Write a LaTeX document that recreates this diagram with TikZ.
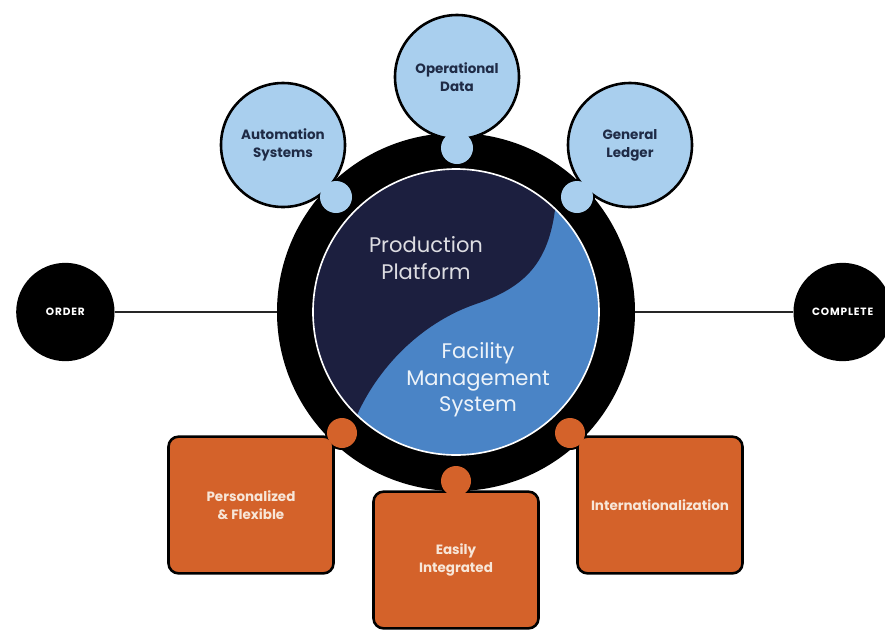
\documentclass[tikz,border=0pt]{standalone}
\usepackage{fontspec}
\setmainfont{Poppins}
\usepackage{tikz}
\usetikzlibrary{positioning, backgrounds}
\definecolor{navy}{HTML}{1C1F3F}
\definecolor{fmsblue}{HTML}{4A84C6}
\definecolor{skyblue}{HTML}{A9CFEE}
\definecolor{rust}{HTML}{D4622A}
\definecolor{inkblue}{HTML}{1F2B46}
\definecolor{cream}{HTML}{F7E6D8}

\begin{document}
\begin{tikzpicture}[
  x=0.03cm, y=-0.03cm,
  ring/.style={circle, fill=black, minimum size=10.74cm, inner sep=0pt},
  core/.style={circle, fill=fmsblue, minimum size=8.58cm, inner sep=0pt},
  endpoint/.style={circle, fill=black, minimum size=2.95cm, inner sep=0pt,
                   text=white, font=\bfseries\fontsize{9}{11}\selectfont\addfontfeatures{LetterSpace=8}},
  bubble/.style={circle, fill=skyblue, draw=black, line width=2.2pt,
                 minimum size=3.72cm, inner sep=0pt, align=center, text=inkblue,
                 font=\bfseries\fontsize{11.5}{15.5}\selectfont},
  bknob/.style={circle, fill=skyblue, minimum size=0.96cm, inner sep=0pt},
  card/.style={rectangle, rounded corners=0.3cm, fill=rust, draw=black, line width=2.2pt,
               minimum width=4.95cm, minimum height=4.1cm, align=center, text=cream,
               font=\bfseries\fontsize{11.5}{15.5}\selectfont},
  cknob/.style={circle, fill=rust, minimum size=0.9cm, inner sep=0pt},
  centre/.style={align=center, font=\fontsize{18}{22.5}\selectfont},
  link/.style={draw=black!85, line width=1.5pt},
]
\useasboundingbox (0,0) rectangle (885,630);

% Hub: black ring with the two-tone core
\node[ring] (ring) at (456,312) {};
\node[core] (core) at (456,312) {};
\begin{scope}
  \clip (core.center) circle[radius=143];
  \fill[navy] (555,210) .. controls (548,262) and (526,287) .. (476,304)
              .. controls (426,321) and (381,362) .. (357,415)
              arc[start angle=134, end angle=314, radius=143] -- cycle;
\end{scope}
\draw[white, line width=1.4pt] (core.center) circle[radius=143];
\node[centre, text=white!85!navy] (prod) at (426,258) {Production\\Platform};
\node[centre, text=white!90!fmsblue] (fms) at (478,380) {Facility\\Management\\System};

% Start and end of the flow
\node[endpoint, left=4.86cm of ring] (order) {ORDER};
\node[endpoint, right=4.74cm of ring] (complete) {COMPLETE};
\draw[link] (order) -- (ring);
\draw[link] (ring) -- (complete);

% Data sources above the hub
\node[bubble] (opdata) at (457,77)  {Operational\\Data};
\node[bubble] (auto)   at (283,145) {Automation\\Systems};
\node[bubble] (ledger) at (630,145) {General\\Ledger};
\node[bknob] (opknob)   at (457,148) {};
\node[bknob] (autoknob) at (336,197) {};
\node[bknob] (ledgknob) at (577,197) {};

% Qualities below the hub
\node[card] (pers)  at (251,505) {Personalized\\\& Flexible};
\node[card] (easy)  at (456,560) {Easily\\Integrated};
\node[card] (intl)  at (660,505) {Internationalization};
\node[cknob] (persknob) at (342,433) {};
\node[cknob] (easyknob) at (456,481) {};
\node[cknob] (intlknob) at (570,433) {};

% knob outlines sit behind everything
\begin{scope}[on background layer]
  \foreach \k/\r in {opknob/18, autoknob/18, ledgknob/18,
                     persknob/17, easyknob/17, intlknob/17}
    \fill[black] (\k.center) circle[radius=\r];
\end{scope}
\end{tikzpicture}
\end{document}
